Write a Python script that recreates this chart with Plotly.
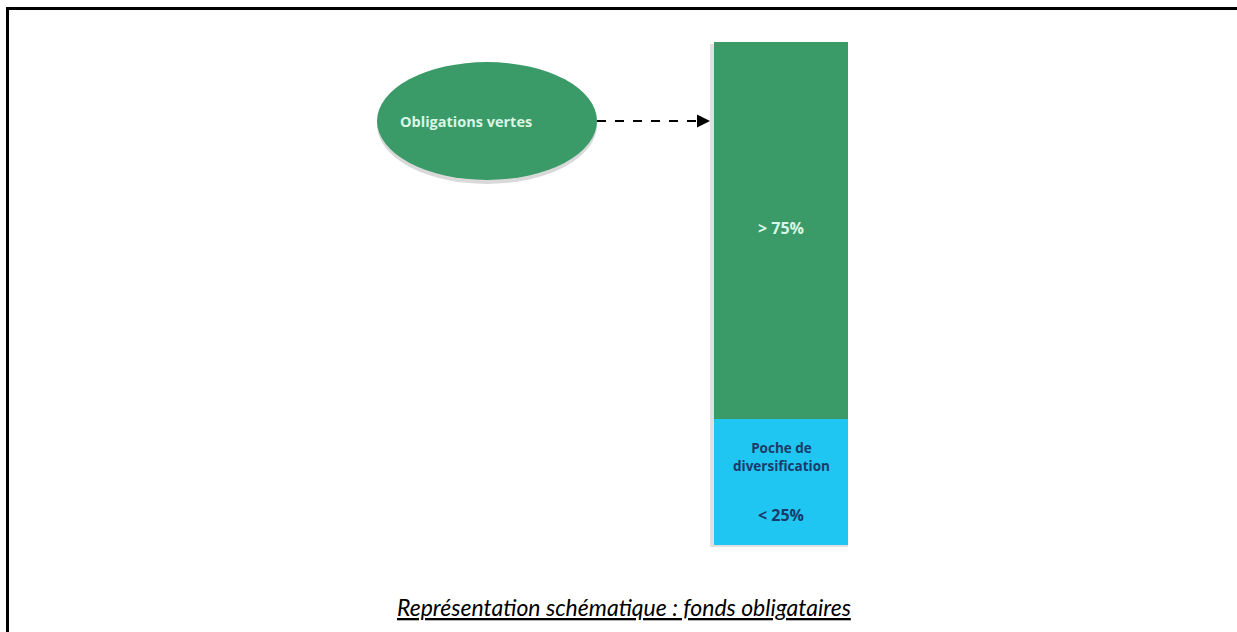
import plotly.graph_objects as go

W, H = 1237, 632

# Data (bottom to top)
segments = ["< 25%", "> 75%"]
shares = [25, 75]
seg_colors = ["#1fc6f1", "#3a9a68"]
bubble_label = "Obligations vertes"
pocket_label = "Poche de<br>diversification"
caption = "Représentation schématique : fonds obligataires"

fig = go.Figure()

bar_x0, bar_x1 = 714, 848
bar_top, bar_bot = 42, 545
for lab, v, c in zip(segments, shares, seg_colors):
    fig.add_trace(go.Bar(
        x=[0], y=[v], name=lab, marker=dict(color=c, line=dict(width=0)),
        width=1, xaxis="x2", yaxis="y2", showlegend=False, hoverinfo="skip",
    ))
fig.update_layout(barmode="stack")

# texts in the bar
fig.add_annotation(x=0, y=63, xref="x2", yref="y2",
                   text="<b>" + segments[1].replace(">", "&gt;") + "</b>", showarrow=False,
                   font=dict(family="Open Sans", size=16, color="#d8f7e6"))
fig.add_annotation(x=0, y=17.5, xref="x2", yref="y2",
                   text="<b>" + pocket_label + "</b>", showarrow=False,
                   font=dict(family="Open Sans", size=13.5, color="#1b3a6b"))
fig.add_annotation(x=0, y=6, xref="x2", yref="y2",
                   text="<b>" + segments[0].replace("<", "&lt;") + "</b>", showarrow=False,
                   font=dict(family="Open Sans", size=16, color="#1b3a6b"))

shapes = []
# border (left and top edges only visible; the rest runs off the picture)
shapes.append(dict(type="line", xref="x", yref="y", x0=7.5, x1=1500, y0=8.5, y1=8.5,
                   line=dict(color="black", width=3)))
shapes.append(dict(type="line", xref="x", yref="y", x0=7.5, x1=7.5, y0=7, y1=900,
                   line=dict(color="black", width=3)))
# bar shadow
shapes.append(dict(type="rect", xref="x", yref="y", x0=bar_x0 - 4, x1=bar_x1, y0=bar_top + 2, y1=bar_bot + 2,
                   line=dict(width=0), fillcolor="rgba(0,0,0,0.12)", layer="below"))
# ellipse shadow + ellipse
ecx, ecy, erx, ery = 487, 121, 110, 59
shapes.append(dict(type="circle", xref="x", yref="y", x0=ecx - erx, x1=ecx + erx, y0=ecy - ery + 4, y1=ecy + ery + 4,
                   line=dict(width=0), fillcolor="rgba(0,0,0,0.15)"))
shapes.append(dict(type="circle", xref="x", yref="y", x0=ecx - erx, x1=ecx + erx, y0=ecy - ery, y1=ecy + ery,
                   line=dict(width=0), fillcolor=seg_colors[1]))
# dashed arrow line
shapes.append(dict(type="line", xref="x", yref="y", x0=ecx + erx, x1=bar_x0 - 12, y0=ecy, y1=ecy,
                   line=dict(color="black", width=2, dash="dash")))
fig.update_layout(shapes=shapes)

fig.add_annotation(x=bar_x0 - 4, y=ecy, ax=bar_x0 - 16, ay=ecy, xref="x", yref="y", axref="x", ayref="y",
                   showarrow=True, arrowhead=2, arrowsize=1.3, arrowwidth=2, arrowcolor="black", text="")

fig.add_annotation(x=ecx - 21, y=ecy, xref="x", yref="y", text="<b>" + bubble_label + "</b>",
                   showarrow=False, font=dict(family="Open Sans", size=14.5, color="#d8f7e6"))

fig.add_annotation(x=624, y=607, xref="x", yref="y", text="<i><u>" + caption + "</u></i>",
                   showarrow=False, font=dict(family="Lato", size=23, color="black"))

fig.update_layout(
    width=W, height=H, margin=dict(l=0, r=0, t=0, b=0),
    paper_bgcolor="white", plot_bgcolor="white",
    xaxis=dict(range=[0, W], visible=False, domain=[0, 1]),
    yaxis=dict(range=[H, 0], visible=False, domain=[0, 1]),
    xaxis2=dict(range=[-0.5, 0.5], visible=False, domain=[bar_x0 / W, bar_x1 / W], anchor="y2"),
    yaxis2=dict(range=[0, 100], visible=False, domain=[(H - bar_bot) / H, (H - bar_top) / H], anchor="x2"),
)

fig.write_html("out.html", config={"displayModeBar": False},
               post_script="document.body.style.margin='0';document.body.style.overflow='hidden';")
